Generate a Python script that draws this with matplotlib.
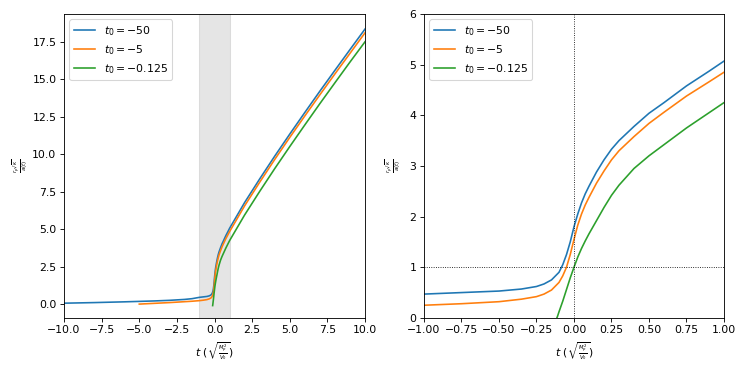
import numpy as np
import matplotlib
matplotlib.use('Agg')
import matplotlib.pyplot as plt
from matplotlib.ticker import MultipleLocator

# values
t_50 = [-10, -8, -6, -4, -3, -2, -1.5, -1, -0.75, -0.5, -0.35, -0.25, -0.2, -0.15,
        -0.1, -0.075, -0.05, -0.025, 0, 0.025, 0.05, 0.075, 0.1, 0.15, 0.2, 0.25,
        0.3, 0.4, 0.5, 0.6, 0.75, 0.9, 1, 2, 3, 4, 5, 6, 7, 8, 9, 10]
y_50 = [0.08, 0.12, 0.17, 0.23, 0.27, 0.33, 0.38, 0.47, 0.5, 0.53, 0.57, 0.62, 0.67, 0.75,
        0.9, 1.05, 1.25, 1.5, 1.8, 2.05, 2.27, 2.45, 2.6, 2.88, 3.12, 3.33,
        3.5, 3.78, 4.04, 4.25, 4.58, 4.87, 5.07, 6.79, 8.36, 9.88, 11.35, 12.79, 14.21, 15.6, 16.98, 18.35]

t_5 = [-5, -4, -3, -2, -1.5, -1, -0.75, -0.5, -0.35, -0.25, -0.2, -0.15,
       -0.1, -0.075, -0.05, -0.025, 0, 0.025, 0.05, 0.075, 0.1, 0.15, 0.2, 0.25,
       0.3, 0.4, 0.5, 0.6, 0.75, 0.9, 1, 2, 3, 4, 5, 6, 7, 8, 9, 10]
y_5 = [0.02, 0.07, 0.12, 0.18, 0.21, 0.25, 0.28, 0.32, 0.37, 0.42, 0.47, 0.55,
       0.7, 0.83, 1.0, 1.25, 1.55, 1.83, 2.05, 2.23, 2.38, 2.66, 2.9, 3.12,
       3.3, 3.58, 3.84, 4.06, 4.38, 4.66, 4.85, 6.57, 8.14, 9.66, 11.13, 12.56, 13.97, 15.36, 16.73, 18.1]

t_0125 = [-0.125, -0.11, -0.1, -0.075, -0.05, -0.025, 0, 0.025, 0.05, 0.075, 0.1, 0.15,
          0.2, 0.25, 0.3, 0.4, 0.5, 0.6, 0.75, 0.9, 1, 2, 3, 4, 5, 6, 7, 8, 9, 10]
y_0125 = [-0.08, 0.03, 0.12, 0.33, 0.56, 0.79, 1.0, 1.2, 1.37, 1.52, 1.66, 1.92,
          2.18, 2.42, 2.62, 2.95, 3.2, 3.42, 3.75, 4.05, 4.25, 5.96, 7.53, 9.05, 10.52, 11.96, 13.38, 14.77, 16.15, 17.5]

series = [(t_50, y_50, r'$t_0 = -50$'),
          (t_5, y_5, r'$t_0 = -5$'),
          (t_0125, y_0125, r'$t_0 = -0.125$')]

# small (script style) fractions, like the reference
xlabel = r'$t\ (\sqrt{\genfrac{}{}{0.8}{2}{M_p^2}{V_0}})$'
ylabel = r'$\genfrac{}{}{0.8}{2}{r_p\sqrt{\kappa}}{a(t)}$'

# reference looks like a bigger figure scaled down, so render at a lower dpi
DPI = 78
fig = plt.figure(figsize=(747 / DPI, 374 / DPI), dpi=DPI)
ax1 = fig.add_axes([0.0857, 0.15, 0.403, 0.8126])
ax2 = fig.add_axes([0.5676, 0.15, 0.4016, 0.8126])

for t, y, lab in series:
    ax1.plot(t, y, label=lab)
ax1.axvspan(-1, 1, color='gray', alpha=0.2)
ax1.set_xlim(-10, 10)
ax1.set_ylim(-0.9, 19.35)
ax1.xaxis.set_major_locator(MultipleLocator(2.5))
ax1.yaxis.set_major_locator(MultipleLocator(2.5))
ax1.set_xlabel(xlabel)
ax1.set_ylabel(ylabel)
ax1.xaxis.set_label_coords(0.5, -0.075)
ax1.yaxis.set_label_coords(-0.113, 0.5)
ax1.legend(loc='upper left')

for t, y, lab in series:
    ax2.plot(t, y, label=lab)
ax2.axhline(1, color='k', ls=':', lw=0.8)
ax2.axvline(0, color='k', ls=':', lw=0.8)
ax2.set_xlim(-1, 1)
ax2.set_ylim(0, 6)
ax2.xaxis.set_major_locator(MultipleLocator(0.25))
ax2.set_xlabel(xlabel)
ax2.set_ylabel(ylabel)
ax2.xaxis.set_label_coords(0.5, -0.075)
ax2.yaxis.set_label_coords(-0.07, 0.5)
ax2.legend(loc='upper left')

fig.savefig('out.png', dpi=DPI)
